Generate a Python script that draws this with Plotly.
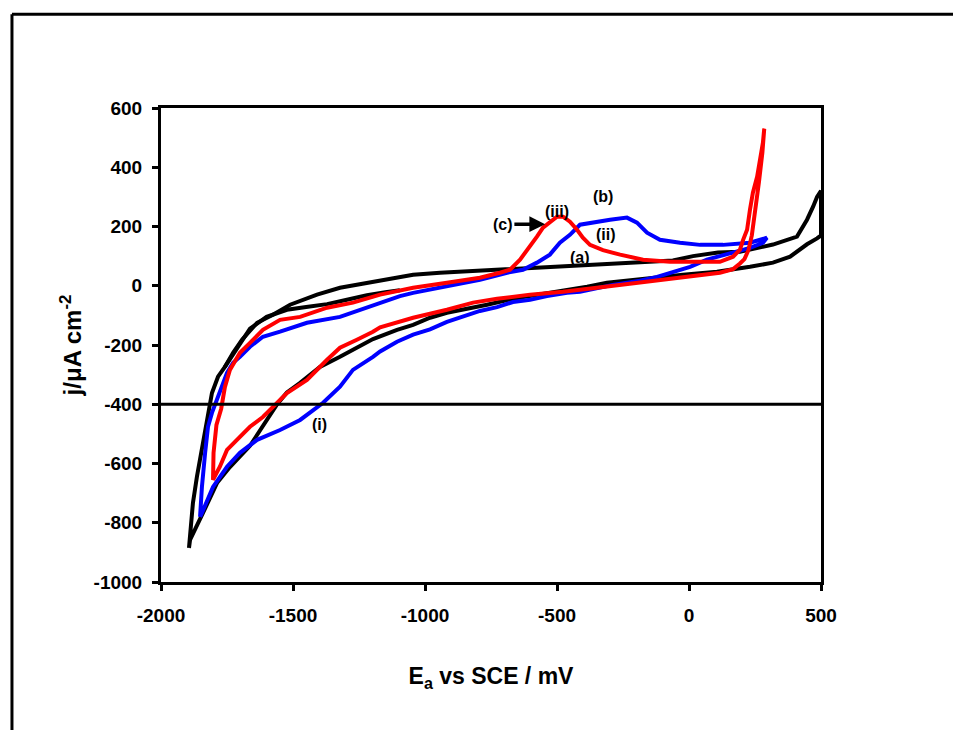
import plotly.graph_objects as go

# ---------------- data ----------------
# black curve (a): anodic sweep from the cathodic vertex up to +500 mV
black_up_E = [-1894, -1879, -1864, -1845, -1826, -1807, -1784, -1758, -1727, -1693, -1636, -1576,
              -1511, -1409, -1322, -1220, -1106, -1045, -943, -792, -640, -515, -364, -174, -61,
              15, 110, 193, 318, 409, 447, 470, 485, 500]
black_up_j = [-885, -733, -645, -544, -453, -362, -307, -274, -226, -182, -125, -98,
              -64, -30, -7, 10, 27, 37, 44, 51, 58, 61, 68, 78, 85,
              100, 112, 115, 139, 166, 223, 267, 300, 320]
# black curve (a): cathodic sweep from +500 mV back to the vertex
black_down_E = [500, 485, 447, 383, 318, 231, 106, -23, -186, -311, -386, -489, -614, -667, -765,
                -841, -917, -981, -1045, -1106, -1170, -1197, -1322, -1398, -1473, -1523, -1560,
                -1598, -1663, -1739, -1788, -1841, -1890, -1894]
black_down_j = [170, 160, 140, 98, 78, 64, 47, 37, 20, 10, -3, -17, -37, -44, -64,
                -78, -91, -108, -132, -149, -170, -180, -240, -274, -328, -360, -400,
                -450, -540, -612, -666, -767, -858, -885]
# black curve (a): second anodic branch
black2_E = [-1758, -1727, -1693, -1663, -1600, -1523, -1450, -1371, -1300, -1220, -1150, -1095]
black2_j = [-274, -232, -190, -145, -105, -81, -72, -62, -48, -32, -22, -15]

# blue curve (b)
blue_up_E = [-1852, -1845, -1833, -1822, -1807, -1788, -1769, -1750, -1727, -1701, -1663, -1614,
             -1549, -1447, -1322, -1197, -1095, -1045, -917, -792, -689, -629, -576, -527, -489,
             -451, -413, -349, -299, -235, -197, -159, -110, -34, 42, 129, 231, 295]
blue_up_j = [-780, -679, -565, -476, -429, -385, -342, -294, -260, -240, -206, -172,
             -155, -125, -105, -68, -35, -24, -3, 20, 44, 54, 78, 105, 145,
             172, 206, 216, 223, 230, 213, 179, 155, 145, 138, 138, 145, 162]
blue_down_E = [295, 280, 231, 167, 68, 4, -61, -121, -186, -288, -413, -462, -538, -602, -667,
               -727, -792, -856, -917, -981, -1045, -1106, -1170, -1197, -1273, -1322, -1386,
               -1473, -1549, -1636, -1701, -1750, -1803, -1845, -1852]
blue_down_j = [162, 145, 128, 112, 88, 64, 47, 30, 17, 3, -20, -24, -35, -47, -55,
               -72, -85, -105, -122, -147, -165, -189, -222, -240, -284, -341, -395,
               -453, -487, -520, -564, -611, -679, -767, -780]

# red curve (c)
red_down_E = [285, 278, 265, 250, 238, 225, 210, 193, 167, 117, 4, -121, -186, -349, -477, -602,
              -727, -818, -917, -1045, -1170, -1197, -1258, -1322, -1371, -1447, -1523, -1576,
              -1614, -1663, -1712, -1750, -1777, -1803]
red_down_j = [530, 450, 350, 250, 170, 120, 90, 75, 56, 44, 31, 20, 10, -7, -20, -30,
              -44, -57, -81, -108, -140, -155, -182, -209, -250, -318, -362, -409,
              -443, -476, -520, -554, -611, -655]
red_up_E = [-1803, -1801, -1790, -1772, -1758, -1739, -1701, -1663, -1614, -1549, -1473, -1371,
            -1273, -1170, -1095, -1045, -917, -792, -716, -678, -640, -602, -576, -553, -527,
            -500, -477, -451, -424, -402, -375, -326, -261, -174, -72, 15, 117, 167, 193, 205,
            220, 231, 242, 258, 269, 280, 285]
red_up_j = [-655, -564, -470, -415, -342, -284, -226, -193, -149, -115, -105, -74,
            -57, -30, -15, -7, 10, 27, 44, 54, 88, 132, 166, 196, 216,
            233, 233, 216, 189, 162, 138, 120, 105, 88, 81, 81, 81, 98, 122, 155,
            189, 257, 314, 368, 425, 483, 530]

# labels on the curves
label_text = ["(a)", "(b)", "(i)", "(ii)", "(iii)"]
label_E = [-413, -326, -1398, -314, -500]
label_j = [95, 301, -470, 172, 250]
# label (c) with its arrow pointing at the red peak
c_text = "(c)"
c_E, c_j = -705, 208
c_head_E, c_head_j = -545, 208

x_ticks = [-2000, -1500, -1000, -500, 0, 500]
y_ticks = [-1000, -800, -600, -400, -200, 0, 200, 400, 600]

# ---------------- figure ----------------
FONT = "Liberation Sans, Arial, sans-serif"
LW = 4

fig = go.Figure()
fig.add_trace(go.Scatter(x=black_up_E + black_down_E, y=black_up_j + black_down_j, mode="lines",
                         line=dict(color="#000000", width=LW), hoverinfo="skip", showlegend=False))
fig.add_trace(go.Scatter(x=black2_E, y=black2_j, mode="lines",
                         line=dict(color="#000000", width=LW), hoverinfo="skip", showlegend=False))
fig.add_trace(go.Scatter(x=blue_up_E + blue_down_E, y=blue_up_j + blue_down_j, mode="lines",
                         line=dict(color="#0000FF", width=LW), hoverinfo="skip", showlegend=False))
fig.add_trace(go.Scatter(x=red_down_E + red_up_E, y=red_down_j + red_up_j, mode="lines",
                         line=dict(color="#FF0000", width=LW), hoverinfo="skip", showlegend=False))

LABEL_FONT = dict(family=FONT, size=16, color="#000000", weight="bold")
annotations = []
for t, xe, yj in zip(label_text, label_E, label_j):
    annotations.append(dict(x=xe, y=yj, xref="x", yref="y", text=t, showarrow=False,
                            font=LABEL_FONT))
annotations.append(dict(x=c_head_E, y=c_head_j, xref="x", yref="y",
                        ax=c_E, ay=c_j, axref="x", ayref="y",
                        text=c_text, font=LABEL_FONT, showarrow=True, arrowhead=2,
                        arrowsize=0.9, arrowwidth=3.5, arrowcolor="#000000", standoff=0))

shapes = [
    # horizontal reference line at -400
    dict(type="line", xref="paper", yref="y", x0=0, x1=1, y0=-400, y1=-400,
         line=dict(color="#000000", width=3), layer="above"),
    # outer frame of the figure (left and top edges)
    dict(type="line", xref="paper", yref="paper", x0=-0.2258, x1=-0.2258, y0=-0.5, y1=1.198,
         line=dict(color="#000000", width=3)),
    dict(type="line", xref="paper", yref="paper", x0=-0.2258, x1=1.3, y0=1.198, y1=1.198,
         line=dict(color="#000000", width=3)),
]

fig.update_layout(
    width=953, height=730,
    margin=dict(l=161, r=132, t=108, b=148, autoexpand=False),
    paper_bgcolor="#FFFFFF", plot_bgcolor="#FFFFFF",
    font=dict(family=FONT, color="#000000"),
    annotations=annotations, shapes=shapes,
    showlegend=False,
)
fig.update_xaxes(
    range=[-2000, 500], tickvals=x_ticks, ticktext=[str(v) for v in x_ticks],
    showgrid=False, zeroline=False, showline=True, mirror=True, linecolor="#000000", linewidth=3,
    ticks="outside", ticklen=6, tickwidth=3, tickcolor="#000000",
    tickfont=dict(family=FONT, size=19, color="#000000", weight="bold"),
    ticklabelstandoff=8,
    title=dict(text="E<sub>a</sub> vs SCE / mV", standoff=44,
               font=dict(family=FONT, size=23, color="#000000", weight="bold")),
)
fig.update_yaxes(
    range=[-1000, 600], tickvals=y_ticks, ticktext=[str(v) for v in y_ticks],
    showgrid=False, zeroline=False, showline=True, mirror=True, linecolor="#000000", linewidth=3,
    ticks="outside", ticklen=6, tickwidth=3, tickcolor="#000000",
    tickfont=dict(family=FONT, size=19, color="#000000", weight="bold"),
    ticklabelstandoff=6,
    title=dict(text="j/μA cm<sup>-2</sup>", standoff=6,
               font=dict(family=FONT, size=24, color="#000000", weight="bold")),
)

fig.write_html("out.html")
